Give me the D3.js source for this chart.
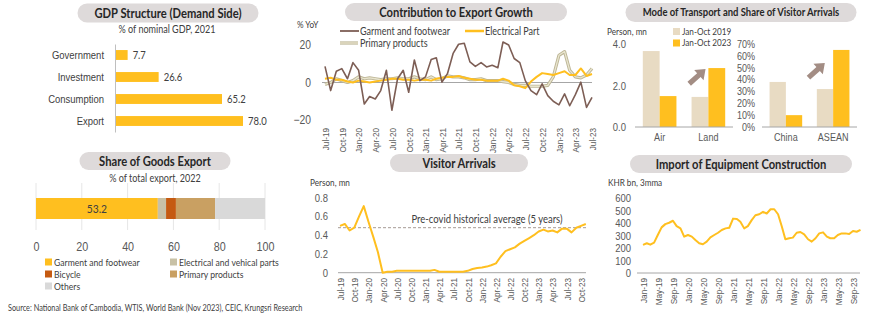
<!DOCTYPE html>
<html>
<head>
<meta charset="utf-8">
<script src="https://cdn.jsdelivr.net/npm/d3@7"></script>
<style>
body { margin: 0; background: #fff; }
svg { display: block; font-family: Lato, "Open Sans", sans-serif; }
.tick text { fill: #595959; }
</style>
</head>
<body>
<svg id="board" width="870" height="326"></svg>
<script>
// ---- data ----
const gdpCats = ["Government", "Investment", "Consumption", "Export"];
const gdpVals = [7.7, 26.6, 65.2, 78.0];

const shareCats = ["Garment and footwear", "Electrical and vehical parts", "Bicycle", "Primary products", "Others"];
const shareVals = [53.2, 3.6, 4.3, 17.1, 21.8];
const shareTicks = [0, 20, 40, 60, 80, 100];

const contribStart = "Jul-19", contribEnd = "Jul-23";
const contribSeries = ["Garment and footwear", "Electrical Part", "Primary products"];
const garment = [8.6, -4.3, 6, 7.4, 2, 10.6, 6.5, -11.5, -7.5, -8.8, -4.3, 6.5, -14.8, 2, 6.5, -5.2, 12, 1, 3, 12.3,
  13.2, 0.2, 4.7, 15.5, 20.4, 20.9, 11, 8.6, 10.6, 8.3, 9.2, 7.9, 21.6, 20, 12.8, 10.6, 1, -4.3, -6.5, -0.7,
  -7, -10, -11.9, -6.1, -12.4, -6.5, 0.2, -13.3, -7.9];
const electrical = [2, 2.5, 1.5, 1.5, 0.5, 0, 1, 0.5, 0, 0.5, 1, 1.5, 2, 2, 1.5, 1.5, 1, 1.5, 1.5, 1,
  2, 2.5, 3, 3, 3.5, 2.5, 2, 1.5, 1.5, 1, 1, 1, 2, 1, -1.5, -2, -3, 0.5, 3, 5,
  4.5, 4, 5, 6, 4, 4, 7.5, 3.5, 4.5];
const primary = [-1, 0, 2, 1, 0, 1, 3, 2, 2.5, 2, 1.5, 2, 2, 2.5, 2, 2, 3, 2, 1.5, 3,
  1.5, 2, 3.5, 3, 3, 2.5, 1.5, 1.5, 2, 1, 1, 1, 0.5, 0, -1, -1.5, -1.5, -2, -2, -2,
  -1.5, 3, 14.5, 16.5, 6.5, 3, 2.5, 4, 7.5];
const contribTicks = ["Jul-19", "Oct-19", "Jan-20", "Apr-20", "Jul-20", "Oct-20", "Jan-21", "Apr-21", "Jul-21",
  "Oct-21", "Jan-22", "Apr-22", "Jul-22", "Oct-22", "Jan-23", "Apr-23", "Jul-23"];

const modeCats = ["Air", "Land"];
const mode2019 = [3.66, 1.45];
const mode2023 = [1.49, 2.84];
const originCats = ["China", "ASEAN"];
const origin2019 = [0.38, 0.32];
const origin2023 = [0.10, 0.65];
const periodNames = ["Jan-Oct 2019", "Jan-Oct 2023"];

const visitorStart = "Jul-19";
const visitors = [0.50, 0.52, 0.45, 0.48, 0.60, 0.71, 0.54, 0.38, 0.22, 0.0, 0.01, 0.01, 0.02, 0.02, 0.02, 0.02,
  0.02, 0.02, 0.02, 0.02, 0.03, 0.01, 0.01, 0.01, 0.01, 0.01, 0.01, 0.02, 0.04, 0.05, 0.055, 0.065, 0.08, 0.1,
  0.17, 0.23, 0.25, 0.27, 0.31, 0.34, 0.37, 0.40, 0.44, 0.46, 0.44, 0.45, 0.43, 0.47, 0.47, 0.43, 0.48, 0.50, 0.52];
const preCovidAvg = 0.48;
const visitorTicks = ["Jul-19", "Oct-19", "Jan-20", "Apr-20", "Jul-20", "Oct-20", "Jan-21", "Apr-21", "Jul-21",
  "Oct-21", "Jan-22", "Apr-22", "Jul-22", "Oct-22", "Jan-23", "Apr-23", "Jul-23", "Oct-23"];

const equipStart = "Jan-19";
const equipment = [225, 238, 227, 243, 304, 365, 391, 402, 418, 375, 357, 291, 304, 291, 264, 238, 230, 251, 285, 304,
  322, 344, 357, 362, 435, 432, 410, 357, 375, 423, 462, 470, 489, 476, 510, 510, 470, 370, 270, 278,
  283, 322, 328, 309, 270, 251, 278, 317, 325, 291, 278, 278, 304, 317, 317, 312, 336, 330, 345];
const equipTicks = ["Jan-19", "May-19", "Sep-19", "Jan-20", "May-20", "Sep-20", "Jan-21", "May-21", "Sep-21",
  "Jan-22", "May-22", "Sep-22", "Jan-23", "May-23", "Sep-23"];

// ---- styles ----
const yellow = "#FFBF1F";
const beige = "#E8DBC3";
const brown = "#7D5E55";
const khaki = "#CFC8A6";
const grid = "#A6A6A6";
const textCol = "#404040";
const shareColors = [yellow, "#C8C1A6", "#C55A11", "#C9A062", "#D9D9D9"];

const parseM = d3.timeParse("%b-%y");
const fmtM = d3.timeFormat("%b-%y");
const monthsFrom = (start, n) => d3.range(n).map(i => d3.timeMonth.offset(parseM(start), i));

const svg = d3.select("#board");

function pill(cx, cy, w, h, label, size) {
  const g = svg.append("g");
  g.append("rect").attr("x", cx - w / 2).attr("y", cy - h / 2).attr("width", w).attr("height", h)
    .attr("rx", h / 2).attr("fill", "#DEDADA");
  g.append("text").attr("x", cx).attr("y", cy).attr("dy", "0.35em").attr("text-anchor", "middle")
    .attr("font-size", size).attr("font-weight", 700).attr("fill", "#262626").text(label);
}

function note(x, y, label, size, anchor) {
  svg.append("text").attr("x", x).attr("y", y).attr("dy", "0.35em").attr("text-anchor", anchor || "start")
    .attr("font-size", size).attr("fill", textCol).text(label);
}

function styleAxis(g, size) {
  g.select(".domain").remove();
  g.selectAll(".tick line").remove();
  g.selectAll(".tick text").attr("font-size", size).attr("font-family", null);
}

function rotateLabels(g) {
  g.selectAll(".tick text").attr("transform", "rotate(-90)").attr("text-anchor", "end")
    .attr("x", -3).attr("y", 0).attr("dy", "0.35em");
}

// ---- GDP structure ----
pill(168, 13, 181, 19, "GDP Structure (Demand Side)", 13);
note(167, 29, "% of nominal GDP, 2021", 10.5, "middle");

const gdpX = d3.scaleLinear().domain([0, 78]).range([115, 243]);
const gdpY = d3.scaleBand().domain(gdpCats).range([44, 132]).paddingInner(0.55).paddingOuter(0.275);

svg.append("g").selectAll("rect").data(gdpVals).join("rect")
  .attr("x", gdpX(0)).attr("y", (d, i) => gdpY(gdpCats[i]))
  .attr("width", d => gdpX(d) - gdpX(0)).attr("height", gdpY.bandwidth()).attr("fill", yellow);
svg.append("g").selectAll("text").data(gdpVals).join("text")
  .attr("x", d => gdpX(d) + 5).attr("y", (d, i) => gdpY(gdpCats[i]) + gdpY.bandwidth() / 2)
  .attr("dy", "0.35em").attr("font-size", 11).attr("fill", textCol).text(d => d.toFixed(1));
const gdpAxis = svg.append("g").attr("transform", `translate(${gdpX(0)},0)`)
  .call(d3.axisLeft(gdpY).tickSize(0).tickPadding(11));
gdpAxis.select(".domain").attr("stroke", "#BFBFBF");
gdpAxis.selectAll(".tick text").attr("font-size", 11).attr("font-family", null).style("fill", textCol);

// ---- share of goods export ----
pill(155, 161, 151, 18, "Share of Goods Export", 13);
note(155, 178, "% of total export, 2022", 10.5, "middle");

const shareX = d3.scaleLinear().domain([0, 100]).range([36, 265]);
const shareEnds = d3.cumsum(shareVals);
svg.append("g").selectAll("line").data(shareTicks).join("line")
  .attr("x1", d => shareX(d)).attr("x2", d => shareX(d)).attr("y1", 183).attr("y2", 230)
  .attr("stroke", "#E6E6E6");
svg.append("g").selectAll("rect").data(shareVals).join("rect")
  .attr("x", (d, i) => shareX(shareEnds[i] - d)).attr("y", 198)
  .attr("width", d => shareX(d) - shareX(0)).attr("height", 21)
  .attr("fill", (d, i) => shareColors[i]);
note(shareX(shareVals[0] / 2), 208.5, shareVals[0].toFixed(1), 12, "middle");
const shareAxis = svg.append("g").attr("transform", "translate(0,240)")
  .call(d3.axisBottom(shareX).tickValues(shareTicks).tickSize(0).tickPadding(2));
styleAxis(shareAxis, 12.5);

const shareLegend = svg.append("g").selectAll("g").data(shareCats).join("g")
  .attr("transform", (d, i) => `translate(${i % 2 ? 170 : 45},${262 + Math.floor(i / 2) * 12})`);
shareLegend.append("rect").attr("x", 0).attr("y", -3.5).attr("width", 7).attr("height", 7)
  .attr("fill", (d, i) => shareColors[i]);
shareLegend.append("text").attr("x", 9).attr("dy", "0.35em").attr("font-size", 10)
  .attr("fill", textCol).text(d => d);

// ---- contribution to export growth ----
pill(456, 12, 222, 18, "Contribution to Export Growth", 13);
note(297, 25, "% YoY", 9.5);

const cMonths = monthsFrom(contribStart, garment.length);
const cX = d3.scaleTime().domain([parseM(contribStart), parseM(contribEnd)]).range([325, 592]);
const cY = d3.scaleLinear().domain([-20, 20]).range([120, 45]);

const cyAxis = svg.append("g").attr("transform", "translate(314,0)")
  .call(d3.axisLeft(cY).tickValues([-20, 0, 20]).tickSize(0));
styleAxis(cyAxis, 12);
svg.append("line").attr("x1", 322).attr("x2", 592).attr("y1", cY(0)).attr("y2", cY(0)).attr("stroke", grid);

const cLine = d3.line().x((d, i) => cX(cMonths[i])).y(d => cY(d));
svg.append("path").datum(primary).attr("d", cLine).attr("fill", "none")
  .attr("stroke", "#BDB696").attr("stroke-width", 3.2).attr("stroke-linejoin", "round");
svg.append("path").datum(primary).attr("d", cLine).attr("fill", "none")
  .attr("stroke", "#E9E5CF").attr("stroke-width", 1.3).attr("stroke-linejoin", "round");
svg.append("path").datum(electrical).attr("d", cLine).attr("fill", "none")
  .attr("stroke", yellow).attr("stroke-width", 2).attr("stroke-linejoin", "round");
svg.append("path").datum(garment).attr("d", cLine).attr("fill", "none")
  .attr("stroke", brown).attr("stroke-width", 1.6).attr("stroke-linejoin", "round");

const cxAxis = svg.append("g").attr("transform", "translate(0,125)")
  .call(d3.axisBottom(cX).tickValues(contribTicks.map(parseM)).tickFormat(fmtM).tickSize(0));
styleAxis(cxAxis, 9.5);
rotateLabels(cxAxis);

const cLegend = [[340, 31, brown], [465, 31, yellow], [340, 43, khaki]];
cLegend.forEach(([x, y, c], i) => {
  if (i === 2) {
    svg.append("line").attr("x1", x).attr("x2", x + 18).attr("y1", y).attr("y2", y).attr("stroke", "#BDB696").attr("stroke-width", 3.2);
    svg.append("line").attr("x1", x).attr("x2", x + 18).attr("y1", y).attr("y2", y).attr("stroke", "#E9E5CF").attr("stroke-width", 1.3);
  } else {
    svg.append("line").attr("x1", x).attr("x2", x + 19).attr("y1", y).attr("y2", y).attr("stroke", c).attr("stroke-width", i ? 2.5 : 1.8);
  }
  note(x + 20, y, contribSeries[i], 10.5);
});

// ---- mode of transport / visitor share ----
pill(741, 12.5, 231, 19, "Mode of Transport and Share of Visitor Arrivals", 11);
note(607, 32, "Person, mn", 9.5);
[beige, yellow].forEach((c, i) => {
  svg.append("rect").attr("x", 673).attr("y", 28 + i * 11.5).attr("width", 7).attr("height", 7).attr("fill", c);
  note(682, 31.5 + i * 11.5, periodNames[i], 9.5);
});

function groupedBars(cats, v19, v23, xr, y) {
  const x0 = d3.scaleBand().domain(cats).range(xr).paddingInner(0.31).paddingOuter(0.16);
  const x1 = d3.scaleBand().domain(periodNames).range([0, x0.bandwidth()]);
  [v19, v23].forEach((vals, s) => {
    svg.append("g").selectAll("rect").data(vals).join("rect")
      .attr("x", (d, i) => x0(cats[i]) + x1(periodNames[s])).attr("y", d => y(d))
      .attr("width", x1.bandwidth()).attr("height", d => y(0) - y(d))
      .attr("fill", s ? yellow : beige);
  });
  svg.append("line").attr("x1", xr[0]).attr("x2", xr[1]).attr("y1", y(0)).attr("y2", y(0)).attr("stroke", grid);
  const ax = svg.append("g").attr("transform", `translate(0,${y(0) + 5})`)
    .call(d3.axisBottom(x0).tickSize(0).tickPadding(2));
  styleAxis(ax, 10.5);
  return x0;
}

function arrow(tipX, tipY) {
  const g = svg.append("g").attr("transform", `translate(${tipX},${tipY}) rotate(-42)`);
  g.append("path").attr("d", "M0,0 L-9,-7 L-9,-2.6 L-22,-2.6 L-22,2.6 L-9,2.6 L-9,7 Z")
    .attr("fill", "#A38D84");
}

const mY = d3.scaleLinear().domain([0, 4]).range([127, 44]);
const mX = groupedBars(modeCats, mode2019, mode2023, [635, 733], mY);
const myAxis = svg.append("g").attr("transform", "translate(629,0)")
  .call(d3.axisLeft(mY).tickValues([0, 2, 4]).tickFormat(d3.format(".1f")).tickSize(0));
styleAxis(myAxis, 11);
arrow(mX("Land") + 14, mY(mode2023[1]) + 1);

const oY = d3.scaleLinear().domain([0, 0.7]).range([127, 44]);
const oX = groupedBars(originCats, origin2019, origin2023, [762, 857], oY);
const oyAxis = svg.append("g").attr("transform", "translate(758,0)")
  .call(d3.axisLeft(oY).ticks(7).tickFormat(d3.format(".0%")).tickSize(0));
styleAxis(oyAxis, 10.5);
arrow(oX("ASEAN") + 8, oY(origin2023[1]) + 13);

// ---- visitor arrivals ----
pill(459, 163, 138, 18, "Visitor Arrivals", 13);
note(310, 183, "Person, mn", 9.5);

const vMonths = monthsFrom(visitorStart, visitors.length);
const vX = d3.scaleTime().domain([parseM("Jul-19"), parseM("Oct-23")]).range([340, 581]);
const vY = d3.scaleLinear().domain([0, 0.8]).range([272.7, 197.7]);
const vyAxis = svg.append("g").attr("transform", "translate(331,0)")
  .call(d3.axisLeft(vY).tickValues([0, 0.2, 0.4, 0.6, 0.8]).tickFormat(d => d ? d3.format(".1f")(d) : "0").tickSize(0));
styleAxis(vyAxis, 11);
svg.append("line").attr("x1", 338).attr("x2", 586).attr("y1", vY(0)).attr("y2", vY(0)).attr("stroke", grid);
svg.append("line").attr("x1", 338).attr("x2", 586).attr("y1", vY(preCovidAvg)).attr("y2", vY(preCovidAvg))
  .attr("stroke", "#A69A94").attr("stroke-dasharray", "3,2");
note(487, 219, "Pre-covid historical average (5 years)", 11, "middle");
svg.append("path").datum(visitors)
  .attr("d", d3.line().x((d, i) => vX(vMonths[i])).y(d => vY(d)))
  .attr("fill", "none").attr("stroke", yellow).attr("stroke-width", 2).attr("stroke-linejoin", "round");
const vxAxis = svg.append("g").attr("transform", "translate(0,275)")
  .call(d3.axisBottom(vX).tickValues(visitorTicks.map(parseM)).tickFormat(fmtM).tickSize(0));
styleAxis(vxAxis, 9.5);
rotateLabels(vxAxis);

// ---- import of equipment construction ----
pill(741, 164, 222, 18, "Import of Equipment Construction", 13);
note(608, 183, "KHR bn, 3mma", 9.5);

const eMonths = monthsFrom(equipStart, equipment.length);
const eX = d3.scaleTime().domain([parseM("Jan-19"), parseM("Sep-23")]).range([643, 853]);
const eY = d3.scaleLinear().domain([0, 600]).range([273, 198]);
const eyAxis = svg.append("g").attr("transform", "translate(634,0)")
  .call(d3.axisLeft(eY).tickValues(d3.range(0, 601, 100)).tickSize(0));
styleAxis(eyAxis, 11);
svg.append("line").attr("x1", 637).attr("x2", 860).attr("y1", eY(0)).attr("y2", eY(0)).attr("stroke", grid);
svg.append("path").datum(equipment)
  .attr("d", d3.line().x((d, i) => eX(eMonths[i])).y(d => eY(d)))
  .attr("fill", "none").attr("stroke", yellow).attr("stroke-width", 2).attr("stroke-linejoin", "round");
const exAxis = svg.append("g").attr("transform", "translate(0,275)")
  .call(d3.axisBottom(eX).tickValues(equipTicks.map(parseM)).tickFormat(fmtM).tickSize(0));
styleAxis(exAxis, 9.5);
rotateLabels(exAxis);

// ---- source ----
note(8, 308, "Source: National Bank of Cambodia, WTIS, World Bank (Nov 2023), CEIC, Krungsri Research", 8.5);

// Lato runs wider than the Calibri of the original, so narrow every text a bit
svg.selectAll("text").each(function() {
  const w = this.getComputedTextLength();
  if (w > 0) d3.select(this).attr("textLength", w * 0.86).attr("lengthAdjust", "spacingAndGlyphs");
});
</script>
</body>
</html>
